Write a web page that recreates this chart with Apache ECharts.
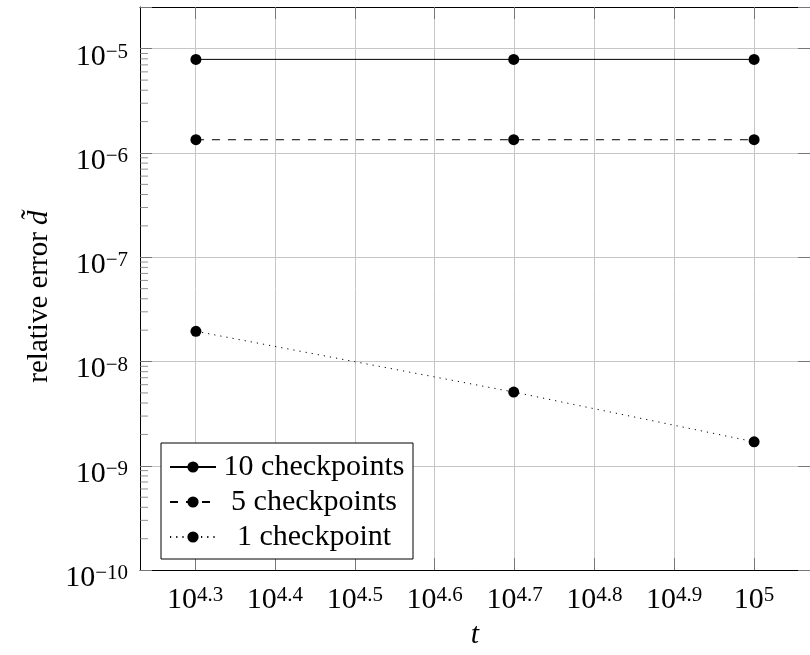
<!DOCTYPE html>
<html>
<head>
<meta charset="utf-8">
<script src="https://cdn.jsdelivr.net/npm/echarts@6/dist/echarts.min.js"></script>
<style>
html,body{margin:0;padding:0;background:#fff;}
#chart{width:810px;height:655px;}
</style>
</head>
<body>
<div id="chart"></div>
<script>
// ---- data ----
const tValues = [20000, 50000, 100000];
const err10 = [7.9e-6, 7.9e-6, 7.9e-6];
const err5 = [1.34e-6, 1.34e-6, 1.34e-6];
const err1 = [1.95e-8, 5.1e-9, 1.7e-9];
const seriesNames = ['10 checkpoints', '5 checkpoints', '1 checkpoint'];
const xTickExp = [4.3, 4.4, 4.5, 4.6, 4.7, 4.8, 4.9, 5.0];
const yTickExp = [-10, -9, -8, -7, -6, -5];

const FONT = '"Liberation Serif", "DejaVu Serif", serif';
const xMin = 4.231, xMax = 5.07;
const yMin = 1e-10, yMax = Math.pow(10, -4.6);

function pts(ys) { return tValues.map((t, i) => [Math.log10(t), ys[i]]); }

// minor ticks on log y axis (2..9 x 10^n)
const minorTicks = [];
yTickExp.slice(0, -1).forEach(e => {
  for (let k = 2; k <= 9; k++) minorTicks.push([xMin, k * Math.pow(10, e)]);
});

const richLbl = {
  b: { fontSize: 30, fontFamily: FONT, color: '#000', lineHeight: 30 },
  s: { fontSize: 21, fontFamily: FONT, color: '#000', verticalAlign: 'top', lineHeight: 12 }
};

function xFmt(v) {
  const e = xTickExp.find(x => Math.abs(x - v) < 1e-6);
  if (e === undefined) return '';
  return '{b|10}{s|' + (Math.abs(e - Math.round(e)) < 1e-9 ? String(Math.round(e)) : e.toFixed(1)) + '}';
}
function yFmt(v) {
  const lv = Math.log10(v);
  const e = yTickExp.find(x => Math.abs(x - lv) < 1e-6);
  if (e === undefined) return '';
  return '{b|10}{s|\u2212' + (-e) + '}';
}

const tickStyle = { color: '#777', width: 1 };
const gridColor = '#c6c6c6';

const chart = echarts.init(document.getElementById('chart'), null, { renderer: 'canvas' });
const lineTypes = ['solid', [8, 8], [1.2, 5]];
const lineData = [err10, err5, err1];

const option = {
  animation: false,
  backgroundColor: '#fff',
  grid: { left: 140, right: -9, top: 7, bottom: 78.5, containLabel: false },
  xAxis: [
    {
      type: 'value', min: xMin, max: xMax, position: 'bottom',
      name: 't', nameLocation: 'middle', nameGap: 49,
      nameTextStyle: { fontSize: 30, fontFamily: FONT, fontStyle: 'italic', color: '#000' },
      axisLine: { show: true, onZero: false, lineStyle: { color: '#000', width: 1 } },
      axisTick: { show: true, inside: true, length: 12, customValues: xTickExp, lineStyle: tickStyle },
      axisLabel: { show: true, customValues: xTickExp, margin: 15, formatter: xFmt, rich: richLbl },
      splitLine: { show: true, lineStyle: { color: gridColor, width: 1 } }
    },
    {
      type: 'value', min: xMin, max: xMax, position: 'top',
      axisLine: { show: true, onZero: false, lineStyle: { color: '#000', width: 1 } },
      axisTick: { show: true, inside: true, length: 12, customValues: xTickExp, lineStyle: tickStyle },
      axisLabel: { show: false },
      splitLine: { show: false }
    }
  ],
  yAxis: [
    {
      type: 'log', logBase: 10, min: yMin, max: yMax, position: 'left',
      name: '{n|relative error }{i|d\u0303}', nameLocation: 'middle', nameGap: 85, nameRotate: 90,
      nameTextStyle: {
        padding: [0, 16, 0, 0],
        rich: {
          n: { fontSize: 29, fontFamily: FONT, color: '#000' },
          i: { fontSize: 29, fontFamily: FONT, fontStyle: 'italic', color: '#000' }
        }
      },
      axisLine: { show: true, onZero: false, lineStyle: { color: '#000', width: 1 } },
      axisTick: { show: true, inside: true, length: 12, lineStyle: tickStyle },
      axisLabel: { show: true, margin: 12, formatter: yFmt, rich: richLbl, padding: [16, 0, 0, 0] },
      splitLine: { show: true, lineStyle: { color: gridColor, width: 1 } }
    },
    {
      type: 'log', logBase: 10, min: yMin, max: yMax, position: 'right',
      axisLine: { show: true, onZero: false, lineStyle: { color: '#000', width: 1 } },
      axisTick: { show: true, inside: true, length: 12, lineStyle: tickStyle },
      axisLabel: { show: false },
      splitLine: { show: false }
    }
  ],
  legend: {
    left: 161, top: 443, orient: 'vertical',
    data: seriesNames,
    itemWidth: 46, itemHeight: 14, itemGap: 5,
    padding: [9, 6, 7, 8],
    borderColor: '#000', borderWidth: 1, backgroundColor: '#fff',
    formatter: name => '{c|' + name + '}',
    textStyle: {
      color: '#000', fontFamily: FONT, fontSize: 30, lineHeight: 30,
      rich: { c: { fontSize: 30, fontFamily: FONT, lineHeight: 30, width: 186, align: 'center', color: '#000' } }
    },
    z: 10
  },
  series: lineData.map((d, i) => ({
    name: seriesNames[i],
    type: 'line',
    data: pts(d),
    symbol: 'circle', symbolSize: 11,
    itemStyle: { color: '#000' },
    lineStyle: { color: '#000', width: 1, type: lineTypes[i] },
    z: 5
  })).concat([{
    name: 'minor',
    type: 'scatter',
    data: minorTicks,
    symbol: 'rect', symbolSize: [8, 1], symbolOffset: [4, 0],
    itemStyle: { color: '#777' },
    clip: false, silent: true, z: 3
  }])
};
chart.setOption(option);
</script>
</body>
</html>
